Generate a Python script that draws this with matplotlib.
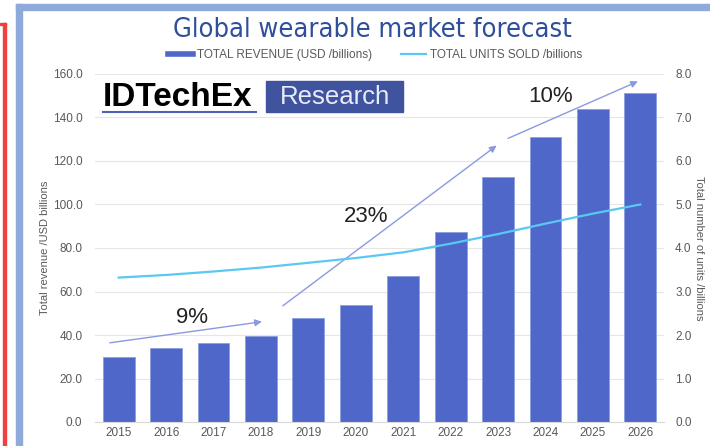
import numpy as np
import matplotlib.pyplot as plt
from matplotlib.lines import Line2D
from matplotlib.patches import Rectangle

# forecast data
years = ['2015', '2016', '2017', '2018', '2019', '2020', '2021',
         '2022', '2023', '2024', '2025', '2026']
revenue = [30.1, 34.1, 36.4, 39.6, 47.7, 53.7, 67.2, 87.4, 112.6, 131.1, 143.7, 151.3]
units = [3.32, 3.38, 3.46, 3.55, 3.66, 3.77, 3.90, 4.10, 4.32, 4.56, 4.79, 5.00]

# growth arrows (start x, start y, end x, end y) in bar/revenue units
cagr_labels = ['9%', '23%', '10%']
cagr_arrows = [(-0.19, 36.4, 3.02, 46.1),
               (3.46, 53.4, 7.97, 127.1),
               (8.21, 130.4, 10.95, 156.6)]
cagr_text_pos = [(1.55, 47.9), (5.21, 94.4), (9.11, 149.7)]

bar_col = '#4e67c8'
line_col = '#5ac8f2'
grey = '#595959'

plt.rcParams['font.family'] = ['Liberation Sans', 'DejaVu Sans']

fig = plt.figure(figsize=(7.1, 4.46), dpi=100)

# frame round the figure
fig.patches.append(Rectangle((16/710, 0), 6/710, 442/446, transform=fig.transFigure,
                             color='#8eaadb', zorder=0))
fig.patches.append(Rectangle((16/710, 436/446), 694/710, 6/446, transform=fig.transFigure,
                             color='#8eaadb', zorder=0))
fig.patches.append(Rectangle((3/710, 0), 2.5/710, 423/446, transform=fig.transFigure,
                             color='#f04040', zorder=0))
fig.patches.append(Rectangle((0, 421/446), 5.5/710, 2.5/446, transform=fig.transFigure,
                             color='#f04040', zorder=0))

ax = fig.add_axes([95/710, 24/446, 569/710, 348/446])
x = np.arange(len(years))
ax.bar(x, revenue, width=0.67, color=bar_col, edgecolor='#8c9ee0', linewidth=0.6, zorder=2)
ax.set_xlim(-0.5, len(years) - 0.5)
ax.set_ylim(0, 160)
ax.set_yticks(np.arange(0, 161, 20))
ax.set_yticklabels(['%.1f' % v for v in np.arange(0, 161, 20)])
ax.set_xticks(x)
ax.set_xticklabels(years)
ax.grid(axis='y', color='#e6e6e6', linewidth=0.8, zorder=0)
ax.set_axisbelow(True)
for s in ['top', 'left', 'right']:
    ax.spines[s].set_visible(False)
ax.spines['bottom'].set_color('#d9d9d9')
ax.tick_params(length=0, colors=grey, labelsize=8.5)
ax.tick_params(axis='y', pad=9)
ax.set_ylabel('Total revenue /USD billions', color=grey, fontsize=8, labelpad=2)

ax2 = ax.twinx()
ax2.plot(x, units, color=line_col, linewidth=1.6, zorder=3)
ax2.set_ylim(0, 8)
ax2.set_yticks(np.arange(0, 8.1, 1))
ax2.set_yticklabels(['%.1f' % v for v in np.arange(0, 8.1, 1)])
for s in ['top', 'left', 'right', 'bottom']:
    ax2.spines[s].set_visible(False)
ax2.tick_params(length=0, colors=grey, labelsize=8.5, pad=8)
ax2.set_ylabel('Total number of units /billions', color=grey, fontsize=8,
               rotation=270, labelpad=9)

# CAGR arrows and labels
for (x0, y0, x1, y1), lab, (tx, ty) in zip(cagr_arrows, cagr_labels, cagr_text_pos):
    ax.annotate('', xy=(x1, y1), xytext=(x0, y0),
                arrowprops=dict(arrowstyle='-|>', color='#8a9ae0', lw=1,
                                mutation_scale=10, shrinkA=0, shrinkB=0), zorder=4)
    ax.text(tx, ty, lab, fontsize=16, color='#222222', ha='center', va='center', zorder=5)

# logo
fig.text(103/710, 1 - 97/446, 'IDTechEx', fontsize=24, fontweight='bold', color='black',
         ha='left', va='center')
fig.add_artist(Line2D([103/710, 256/710], [1 - 112/446, 1 - 112/446], color='#4e60b8', lw=1.5))
fig.patches.append(Rectangle((266/710, 1 - 112/446), 137/710, 31/446, transform=fig.transFigure,
                             color='#3f539f', zorder=5))
fig.text(335/710, 1 - 97/446, 'Research', fontsize=18.5, color='#e8ecf8',
         ha='center', va='center', zorder=6)

# title and legend
fig.text(372/710, 1 - 30/446, 'Global wearable market forecast', fontsize=19.5,
         color='#2f4f9a', ha='center', va='center', family='DejaVu Sans', stretch='condensed')
handles = [Line2D([], [], color=bar_col, lw=4), Line2D([], [], color=line_col, lw=1.6)]
fig.legend(handles, ['TOTAL REVENUE (USD /billions)', 'TOTAL UNITS SOLD /billions'],
           loc='center', bbox_to_anchor=(375/710, 1 - 55/446), ncol=2, frameon=False,
           fontsize=8.5, labelcolor=grey, handlelength=2.1, handletextpad=0.3, columnspacing=2.5)

fig.savefig('out.png', dpi=100)
